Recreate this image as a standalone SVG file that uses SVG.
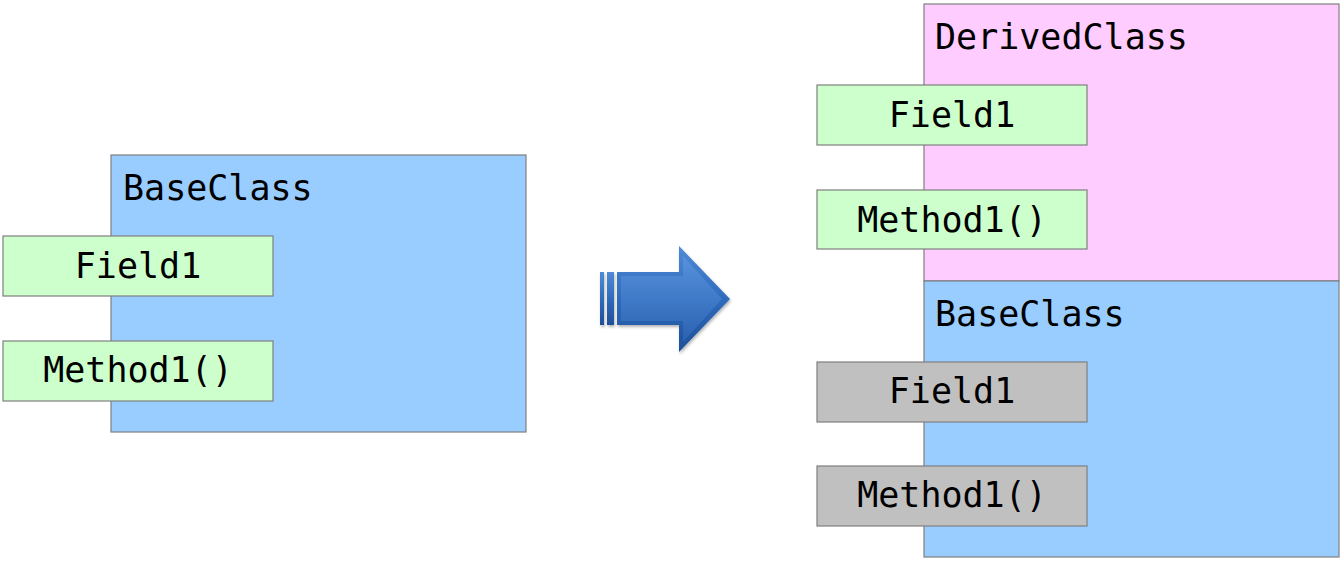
<svg xmlns="http://www.w3.org/2000/svg" width="1344" height="563" viewBox="0 0 1344 563">
  <style>
    .cls { stroke: #7f7f7f; stroke-width: 1.2; }
    .base { fill: #99CCFF; }
    .derived { fill: #FFCCFF; }
    .member { fill: #CCFFCC; stroke: #7f7f7f; stroke-width: 1.2; }
    .inherited { fill: #C0C0C0; stroke: #7f7f7f; stroke-width: 1.2; }
    text { font-family: "DejaVu Sans Mono", "Liberation Mono", monospace; font-size: 35px; fill: #000; }
    .center { text-anchor: middle; }
  </style>
  <defs>
    <linearGradient id="arrowFill" x1="0" y1="0" x2="0" y2="1">
      <stop offset="0" stop-color="#4f8ad6"/>
      <stop offset="0.5" stop-color="#2f6bbd"/>
      <stop offset="1" stop-color="#1e4f98"/>
    </linearGradient>
    <linearGradient id="arrowTop" x1="0" y1="0" x2="0" y2="1">
      <stop offset="0" stop-color="#5f98e0"/>
      <stop offset="1" stop-color="#2e68b8"/>
    </linearGradient>
    <filter id="soft" x="-10%" y="-10%" width="130%" height="130%">
      <feDropShadow dx="1" dy="2" stdDeviation="1.5" flood-color="#000" flood-opacity="0.3"/>
    </filter>
  </defs>

  <!-- left: base class on its own -->
  <g id="base-left">
    <rect class="cls base" x="111" y="155" width="415" height="277"/>
    <text x="123" y="200">BaseClass</text>
  </g>
  <g id="field-left">
    <rect class="member" x="3" y="236" width="270" height="60"/>
    <text class="center" x="138" y="278">Field1</text>
  </g>
  <g id="method-left">
    <rect class="member" x="3" y="341" width="270" height="60"/>
    <text class="center" x="138" y="382">Method1()</text>
  </g>

  <!-- block arrow between the two states -->
  <g id="connectors">
    <g filter="url(#soft)">
      <rect x="600" y="272" width="4" height="53" fill="url(#arrowFill)"/>
      <rect x="607" y="272" width="7" height="53" fill="url(#arrowFill)"/>
      <path d="M617 272 H679 V246 L730 299 L679 352 V325 H617 Z" fill="url(#arrowFill)"/>
      <path d="M621 276 H683 V256 L722 299 L683 342 V321 H621 Z" fill="url(#arrowTop)" opacity="0.7"/>
    </g>
  </g>

  <!-- right: derived class stacked on the base class -->
  <g id="derived">
    <rect class="cls derived" x="924" y="4" width="415" height="277"/>
    <text x="935" y="49">DerivedClass</text>
  </g>
  <g id="base-right">
    <rect class="cls base" x="924" y="281" width="415" height="276"/>
    <text x="935" y="326">BaseClass</text>
  </g>
  <g id="field-derived">
    <rect class="member" x="817" y="85" width="270" height="60"/>
    <text class="center" x="952" y="127">Field1</text>
  </g>
  <g id="method-derived">
    <rect class="member" x="817" y="190" width="270" height="59"/>
    <text class="center" x="952" y="232">Method1()</text>
  </g>
  <g id="field-inherited">
    <rect class="inherited" x="817" y="362" width="270" height="60"/>
    <text class="center" x="952" y="403">Field1</text>
  </g>
  <g id="method-inherited">
    <rect class="inherited" x="817" y="466" width="270" height="60"/>
    <text class="center" x="952" y="507">Method1()</text>
  </g>
</svg>
